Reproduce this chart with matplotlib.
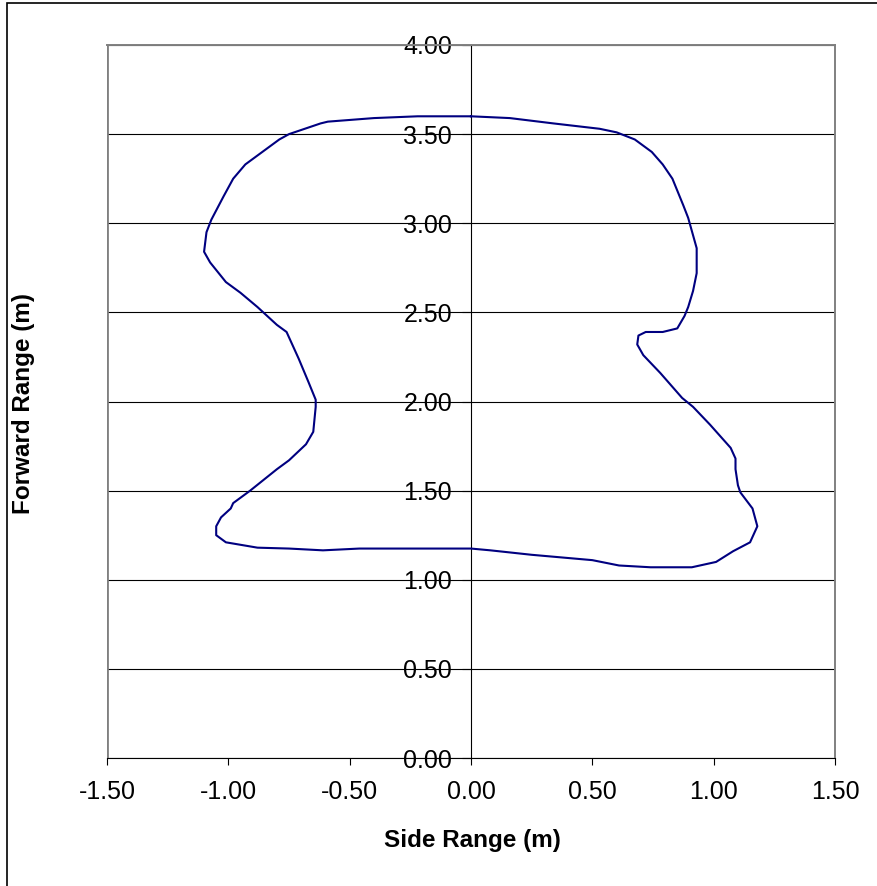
import matplotlib.pyplot as plt
from matplotlib.patches import Rectangle

plt.rcParams['font.family'] = ['Liberation Sans', 'DejaVu Sans']

# coverage outline
side_range = [0.00, -0.22, -0.40, -0.59, -0.62, -0.75, -0.79, -0.86, -0.93, -0.98,
              -1.02, -1.07, -1.09, -1.10, -1.075, -1.01, -0.95, -0.88, -0.80, -0.76,
              -0.71, -0.67, -0.64, -0.64, -0.65, -0.68, -0.75, -0.80, -0.91, -0.98,
              -0.99, -1.03, -1.05, -1.05, -1.01, -0.88, -0.75, -0.61, -0.46, 0.00,
              0.08, 0.25, 0.50, 0.61, 0.74, 0.91, 1.01, 1.08, 1.15, 1.18,
              1.16, 1.11, 1.10, 1.09, 1.09, 1.07, 0.985, 0.915, 0.87, 0.78,
              0.71, 0.685, 0.69, 0.72, 0.79, 0.85, 0.88, 0.895, 0.915, 0.93,
              0.93, 0.895, 0.875, 0.83, 0.79, 0.745, 0.675, 0.60, 0.53, 0.34,
              0.16, 0.00]
forward_range = [3.60, 3.60, 3.59, 3.57, 3.56, 3.50, 3.47, 3.40, 3.33, 3.25,
                 3.15, 3.02, 2.95, 2.84, 2.78, 2.67, 2.61, 2.53, 2.43, 2.39,
                 2.24, 2.11, 2.01, 1.97, 1.83, 1.76, 1.67, 1.62, 1.50, 1.43,
                 1.40, 1.35, 1.30, 1.25, 1.21, 1.18, 1.175, 1.165, 1.175, 1.175,
                 1.165, 1.14, 1.11, 1.08, 1.07, 1.07, 1.10, 1.16, 1.21, 1.30,
                 1.40, 1.49, 1.53, 1.62, 1.68, 1.74, 1.87, 1.97, 2.02, 2.16,
                 2.26, 2.32, 2.37, 2.39, 2.39, 2.41, 2.48, 2.53, 2.62, 2.72,
                 2.86, 3.03, 3.10, 3.25, 3.33, 3.40, 3.47, 3.51, 3.53, 3.56,
                 3.59, 3.60]

x_ticks = [-1.5, -1.0, -0.5, 0.0, 0.5, 1.0, 1.5]
y_ticks = [0.0, 0.5, 1.0, 1.5, 2.0, 2.5, 3.0, 3.5, 4.0]

W, H = 878, 886
fig = plt.figure(figsize=(W / 100, H / 100), dpi=100)

# outer chart border (runs off the right and bottom edges)
fig.patches.append(Rectangle((7 / W, -0.05), 1.1, 1 - 3 / H + 0.05,
                             transform=fig.transFigure, fill=False,
                             edgecolor='black', linewidth=1.2))

ax = fig.add_axes([107 / W, 1 - 758 / H, (835 - 107) / W, (758 - 45) / H])

for y in y_ticks:
    ax.axhline(y, color='black', linewidth=0.8, zorder=1)

ax.plot(side_range, forward_range, color='#000080', linewidth=1.5, zorder=3)

ax.set_xlim(-1.5, 1.5)
ax.set_ylim(0, 4)
ax.set_xticks(x_ticks)
ax.set_yticks(y_ticks)
ax.set_xticklabels(['{:.2f}'.format(v) for v in x_ticks])
ax.set_yticklabels(['{:.2f}'.format(v) for v in y_ticks])

ax.spines['left'].set_position(('data', 0))
ax.spines['left'].set_color('black')
ax.spines['left'].set_linewidth(0.8)
ax.spines['bottom'].set_color('black')
ax.spines['bottom'].set_linewidth(0.8)
for s in ['top', 'right']:
    ax.spines[s].set_color('#808080')
    ax.spines[s].set_linewidth(1.4)

# plot-area frame on the left (the left spine sits at x=0)
ax.axvline(-1.5, color='#808080', linewidth=2.0, zorder=2)

ax.tick_params(axis='x', direction='out', length=5, width=0.8, pad=11,
               labelsize=18, color='black')
ax.tick_params(axis='y', direction='out', length=6.5, width=0.8, pad=7,
               labelsize=18, color='black')

fig.text(472 / W, 1 - 840 / H, 'Side Range (m)', ha='center', va='center',
         fontsize=17.5, fontweight='bold')
fig.text(24 / W, 1 - 403 / H, 'Forward Range (m)', ha='center', va='center',
         rotation=90, fontsize=17.5, fontweight='bold')

fig.savefig('out.png', dpi=100)
